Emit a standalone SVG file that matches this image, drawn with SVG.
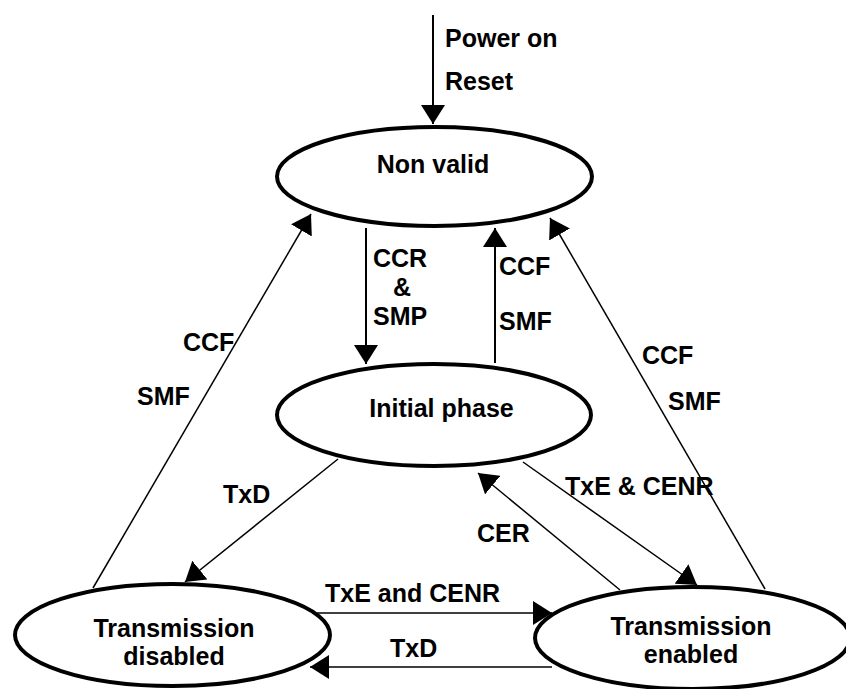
<svg xmlns="http://www.w3.org/2000/svg" width="846" height="689" viewBox="0 0 846 689">
<style>
text{font-family:"Liberation Sans",Arial,sans-serif;font-weight:bold;font-size:25px;fill:#000}
.node ellipse{fill:#fff;stroke:#000;stroke-width:4}
.node text{text-anchor:middle}
.c line{stroke:#000;stroke-width:1.5;fill:none;marker-end:url(#ah)}
.c line.thick{stroke-width:2}
</style>
<defs>
<marker id="ah" markerUnits="userSpaceOnUse" markerWidth="20" markerHeight="24" refX="19" refY="12" orient="auto">
<path d="M0,0 L19,12 L0,24 z" fill="#000"/>
</marker>
</defs>
<g id="connectors" class="c">
<line class="thick" x1="433" y1="15" x2="433" y2="124"/>
<line class="thick" x1="366" y1="228" x2="366" y2="364"/>
<line class="thick" x1="495" y1="363" x2="495" y2="228"/>
<line x1="93" y1="588" x2="311" y2="214"/>
<line x1="765" y1="589" x2="550" y2="218"/>
<line x1="338" y1="459" x2="185" y2="582"/>
<line x1="523" y1="462" x2="697" y2="585"/>
<line x1="620" y1="590" x2="478" y2="473"/>
<line x1="317" y1="613" x2="552" y2="613"/>
<line x1="552" y1="667" x2="310" y2="667"/>
</g>
<g id="labels">
<text x="445" y="47">Power on</text>
<text x="445" y="90">Reset</text>
<text x="373" y="267">CCR</text>
<text x="402" y="296" text-anchor="middle">&amp;</text>
<text x="373" y="325">SMP</text>
<text x="499" y="275">CCF</text>
<text x="499" y="330">SMF</text>
<text x="183" y="351">CCF</text>
<text x="137" y="405">SMF</text>
<text x="642" y="364">CCF</text>
<text x="668" y="410">SMF</text>
<text x="223" y="503">TxD</text>
<text x="565" y="495">TxE &amp; CENR</text>
<text x="477" y="542">CER</text>
<text x="325" y="602">TxE and CENR</text>
<text x="390" y="657">TxD</text>
</g>
<g id="non-valid" class="node">
<ellipse cx="434.5" cy="176.5" rx="157.5" ry="49.5"/>
<text x="433" y="173">Non valid</text>
</g>
<g id="initial-phase" class="node">
<ellipse cx="434" cy="415" rx="157" ry="51"/>
<text x="441.5" y="417">Initial phase</text>
</g>
<g id="transmission-disabled" class="node">
<ellipse cx="172.5" cy="635" rx="157.5" ry="51"/>
<text x="174" y="637">Transmission</text>
<text x="174" y="665">disabled</text>
</g>
<g id="transmission-enabled" class="node">
<ellipse cx="692.5" cy="638" rx="157.5" ry="51"/>
<text x="691" y="635">Transmission</text>
<text x="691" y="663">enabled</text>
</g>
</svg>
